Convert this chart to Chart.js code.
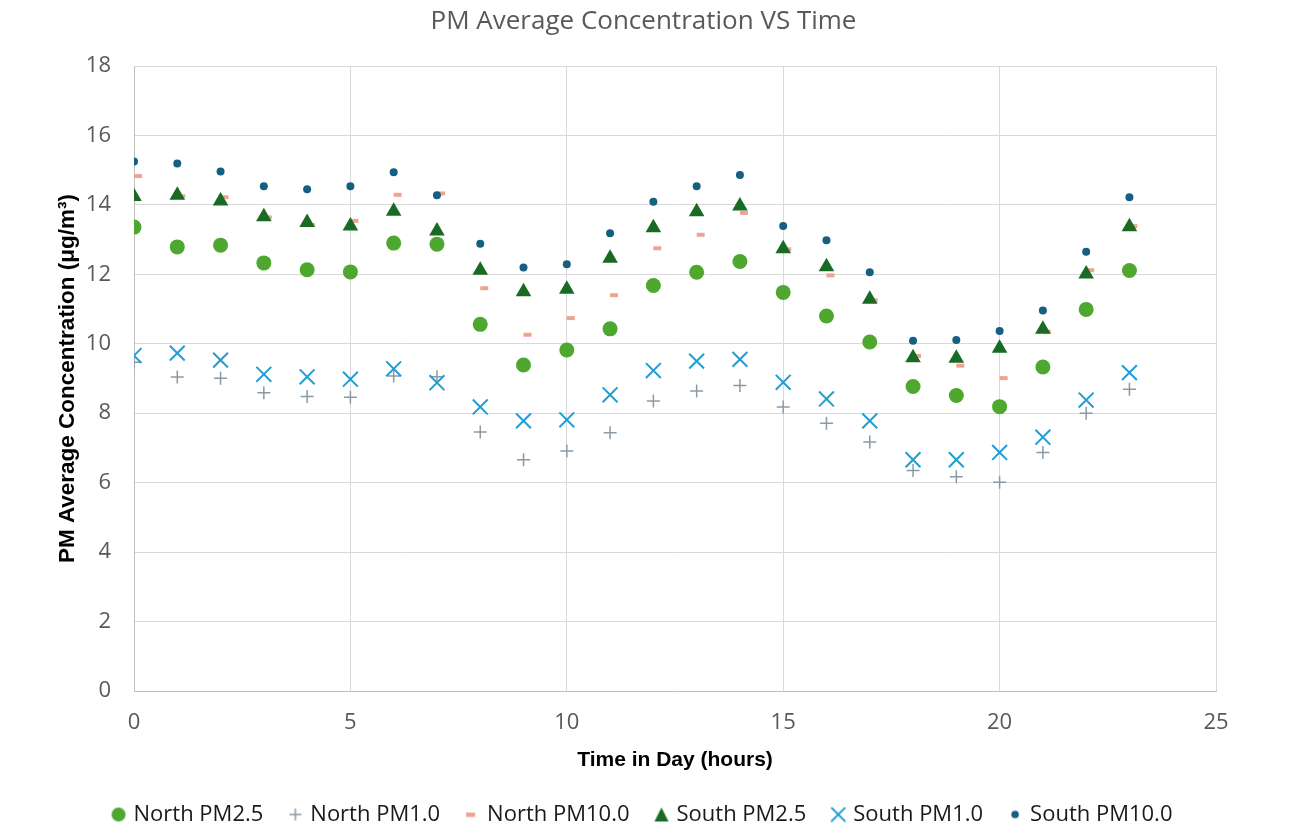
<!DOCTYPE html>
<html><head><meta charset="utf-8">
<script src="https://cdn.jsdelivr.net/npm/chart.js@4/dist/chart.umd.min.js"></script>
<style>html,body{margin:0;padding:0;background:#fff;}#wrap{width:1294px;height:838px;}</style>
</head><body><div id="wrap"><canvas id="c" width="1294" height="838"></canvas></div>
<script>
const hours = [0,1,2,3,4,5,6,7,8,9,10,11,12,13,14,15,16,17,18,19,20,21,22,23];
const northPM25 = [13.36,12.79,12.84,12.33,12.13,12.07,12.90,12.87,10.56,9.39,9.82,10.43,11.68,12.06,12.37,11.48,10.80,10.05,8.77,8.51,8.19,9.33,10.99,12.11];
const northPM1 = [9.47,9.04,9.01,8.59,8.48,8.46,9.07,9.05,7.46,6.66,6.91,7.44,8.35,8.64,8.80,8.18,7.71,7.17,6.35,6.17,6.01,6.87,8.00,8.69];
const northPM10 = [14.83,14.25,14.22,13.64,13.42,13.54,14.29,14.33,11.60,10.26,10.74,11.40,12.75,13.14,13.77,12.72,11.97,11.25,9.65,9.37,9.01,10.35,12.12,13.39];
const southPM25 = [14.24,14.28,14.11,13.66,13.49,13.39,13.82,13.25,12.12,11.50,11.57,12.46,13.34,13.80,13.97,12.74,12.22,11.28,9.60,9.58,9.87,10.42,12.01,13.37];
const southPM1 = [9.66,9.73,9.53,9.12,9.05,8.98,9.28,8.88,8.18,7.78,7.81,8.53,9.23,9.50,9.55,8.89,8.41,7.78,6.66,6.66,6.87,7.31,8.38,9.17];
const southPM10 = [15.25,15.19,14.96,14.54,14.45,14.54,14.94,14.28,12.88,12.20,12.29,13.18,14.09,14.54,14.86,13.39,12.98,12.06,10.09,10.11,10.37,10.96,12.65,14.22];
const seriesNames = ['North PM2.5','North PM1.0','North PM10.0','South PM2.5','South PM1.0','South PM10.0'];
const xTicks = [0,5,10,15,20,25];
const yTicks = [0,2,4,6,8,10,12,14,16,18];

const colors = ['#4EA72E','#8C9AA6','#EEA590','#196B24','#229DD2','#156082'];
const styles = [
  {pointStyle:'circle', radius:7.5, bw:0},
  {pointStyle:'cross', radius:6.5, bw:1.5},
  {pointStyle:'dash', radius:8, bw:4},
  {pointStyle:'triangle', radius:9, bw:0},
  {pointStyle:'crossRot', radius:10.5, bw:2},
  {pointStyle:'circle', radius:4, bw:0}
];
const values = [northPM25, northPM1, northPM10, southPM25, southPM1, southPM10];

function legendIcon(i) {
  const c = document.createElement('canvas');
  c.width = 16; c.height = 16;
  const g = c.getContext('2d');
  const col = colors[i];
  g.fillStyle = col; g.strokeStyle = col;
  if (i === 0) { g.beginPath(); g.arc(8,8,7,0,Math.PI*2); g.fill(); }
  else if (i === 1) { g.lineWidth = 1.5; g.beginPath(); g.moveTo(2,8); g.lineTo(14,8); g.moveTo(8,2); g.lineTo(8,14); g.stroke(); }
  else if (i === 2) { g.fillRect(2,6,9,4.5); }
  else if (i === 3) { g.beginPath(); g.moveTo(8,1); g.lineTo(15,15); g.lineTo(1,15); g.closePath(); g.fill(); }
  else if (i === 4) { g.lineWidth = 1.8; g.beginPath(); g.moveTo(1,1); g.lineTo(15,15); g.moveTo(15,1); g.lineTo(1,15); g.stroke(); }
  else { g.beginPath(); g.arc(8,8,3.8,0,Math.PI*2); g.fill(); }
  return c;
}
const icons = seriesNames.map((n,i)=>legendIcon(i));

const datasets = seriesNames.map((name,i)=>({
  label: name,
  data: hours.map((h,k)=>({x:h, y:values[i][k]})),
  pointStyle: styles[i].pointStyle,
  pointRadius: styles[i].radius,
  pointHoverRadius: styles[i].radius,
  pointBorderWidth: styles[i].bw,
  backgroundColor: colors[i],
  borderColor: colors[i],
  showLine: false,
  order: 10 - i
}));

new Chart(document.getElementById('c'), {
  type: 'scatter',
  data: { datasets },
  options: {
    responsive: false,
    devicePixelRatio: 1,
    animation: false,
    layout: { padding: { left: 0, right: 7, top: 0, bottom: 2.5 } },
    plugins: {
      tooltip: { enabled: false },
      title: {
        display: true,
        text: 'PM Average Concentration VS Time',
        color: '#595959',
        font: { family: 'Open Sans', size: 26, weight: 'normal' },
        padding: { top: 5.5, bottom: 29.3 }
      },
      legend: {
        position: 'bottom',
        labels: {
          usePointStyle: true,
          pointStyleWidth: 8,
          padding: 28,
          color: '#1a1a1a',
          font: { family: 'Open Sans', size: 22 },
          generateLabels: (chart) => seriesNames.map((name,i)=>({
            text: name,
            pointStyle: icons[i],
            fillStyle: colors[i],
            strokeStyle: colors[i],
            lineWidth: 0,
            hidden: false,
            datasetIndex: i,
            fontColor: '#1a1a1a'
          }))
        }
      }
    },
    scales: {
      x: {
        type: 'linear', min: 0, max: 25,
        afterBuildTicks: (s) => { s.ticks = xTicks.map(v=>({value:v})); },
        afterFit: (s) => { s.height = 84.5; },
        ticks: { color: '#595959', font: { family: 'Open Sans', size: 22 }, padding: 19 },
        grid: { color: '#d9d9d9', drawTicks: false },
        border: { color: '#bfbfbf' },
        title: { display: true, text: 'Time in Day (hours)', color: '#000', font: { family: 'Liberation Sans', size: 21, weight: 'bold' }, padding: { top: 10, bottom: 2.9 } }
      },
      y: {
        type: 'linear', min: 0, max: 18,
        afterBuildTicks: (s) => { s.ticks = yTicks.map(v=>({value:v})); },
        afterFit: (s) => { s.width = 134; },
        ticks: { color: '#595959', font: { family: 'Open Sans', size: 22 }, padding: 23 },
        grid: { color: '#d9d9d9', drawTicks: false },
        border: { color: '#bfbfbf' },
        title: { display: true, text: 'PM Average Concentration (μg/m³)', color: '#000', font: { family: 'Liberation Sans', size: 22.5, weight: 'bold' }, padding: { top: 54.5, bottom: 0 } }
      },
      spacer: {
        type: 'linear', position: 'right', min: 0, max: 1, display: true,
        afterFit: (s) => { s.width = 71; },
        ticks: { display: false },
        grid: { display: false, drawTicks: false },
        border: { display: false },
        title: { display: false }
      }
    }
  }
});
</script></body></html>
